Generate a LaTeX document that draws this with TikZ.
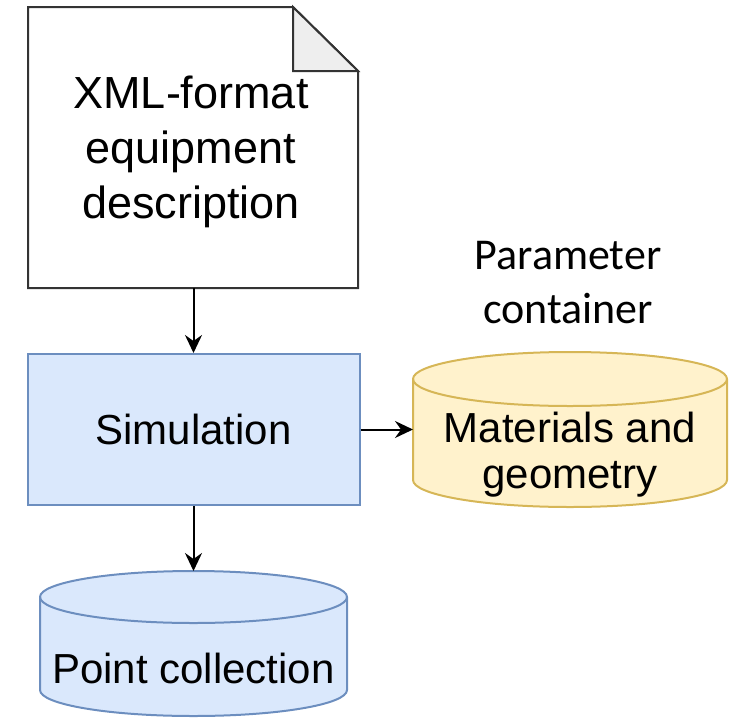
\documentclass[tikz,border=0pt]{standalone}
\usepackage{fontspec}
\setmainfont{Liberation Sans}
\newfontfamily\calfont{Carlito}
\usetikzlibrary{arrows.meta}
\definecolor{bluefill}{HTML}{DAE8FC}
\definecolor{bluedraw}{HTML}{6C8EBF}
\definecolor{yelfill}{HTML}{FFF2CC}
\definecolor{yeldraw}{HTML}{D6B656}
\definecolor{foldfill}{HTML}{EEEEEE}
\definecolor{docdraw}{HTML}{333333}
\tikzset{
  conn/.style={line width=2pt, -{Stealth[length=18pt,width=17pt,inset=6pt]}},
  anchorbox/.style={inner sep=0pt, outer sep=0pt},
  bigtext/.style={font=\fontsize{42}{46}\selectfont, align=center, inner sep=0pt},
}
\begin{document}
\begin{tikzpicture}[x=1pt,y=-1pt]
\useasboundingbox (0,0) rectangle (731,718);
% document shape
\node[anchorbox, minimum width=330pt, minimum height=281pt] (doc) at (193.5,147.5) {};
\draw[line width=2pt, draw=docdraw, fill=white] (28,7) -- (293,7) -- (358,71) -- (358,288) -- (28,288) -- cycle;
\draw[line width=2pt, draw=docdraw, fill=foldfill] (293,7) -- (293,71) -- (358,71) -- cycle;
\node[bigtext, font=\fontsize{45}{55}\selectfont] (doctext) at (191,152) {XML-format\\equipment\\description};
% simulation
\node[draw=bluedraw, fill=bluefill, line width=2pt, minimum width=332pt, minimum height=151pt, inner sep=0pt,
      font=\fontsize{42}{46}\selectfont] (sim) at (193.5,429.5) {Simulation};
% materials cylinder
\node[anchorbox, minimum width=314pt, minimum height=155pt] (mat) at (570,429.5) {};
\draw[line width=2pt, draw=yeldraw, fill=yelfill]
  (413,379) -- (413,480) arc[start angle=180, end angle=360, x radius=157pt, y radius=27pt]
  -- (727,379) arc[start angle=0, end angle=180, x radius=157pt, y radius=27pt] -- cycle;
\draw[line width=2pt, draw=yeldraw]
  (413,379) arc[start angle=180, end angle=360, x radius=157pt, y radius=27pt];
\node[bigtext] (mattext) at (570,455) {Materials and\\geometry};
% point collection cylinder
\node[anchorbox, minimum width=307pt, minimum height=145pt] (pc) at (193.5,643.5) {};
\draw[line width=2pt, draw=bluedraw, fill=bluefill]
  (40,597) -- (40,690) arc[start angle=180, end angle=360, x radius=153.5pt, y radius=26pt]
  -- (347,597) arc[start angle=0, end angle=180, x radius=153.5pt, y radius=26pt] -- cycle;
\draw[line width=2pt, draw=bluedraw]
  (40,597) arc[start angle=180, end angle=360, x radius=153.5pt, y radius=26pt];
\node[bigtext, anchor=base] (pctext) at (193.5,683) {Point collection};
% label
\node[font=\calfont\fontsize{44}{54}\selectfont, align=center, inner sep=0pt, anchor=base] (param) at (568,323) {Parameter\\container};
% connectors
\draw[conn] (doc.south) -- (sim.north);
\draw[conn] (sim.east) -- (mat.west);
\draw[conn] (sim.south) -- (pc.north);
\end{tikzpicture}
\end{document}
